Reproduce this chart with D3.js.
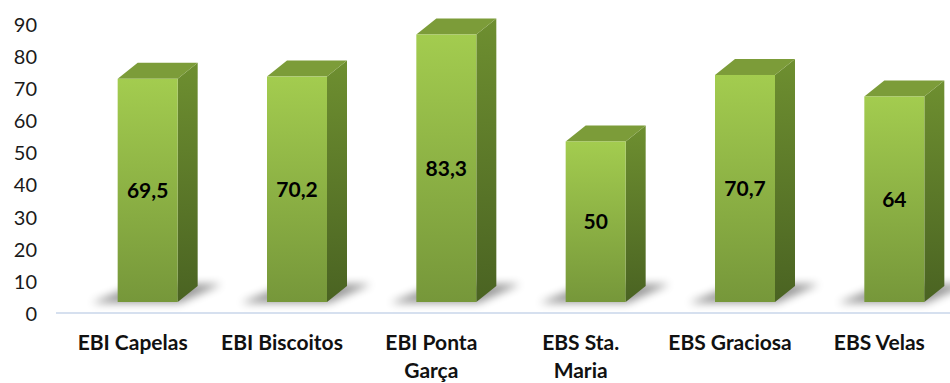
<!DOCTYPE html>
<head>
  <meta charset="utf-8">
  <title>Chart</title>
  <script src="https://d3js.org/d3.v7.min.js"></script>
<style>
body, html {
  margin: 0;
  padding: 0;
  background: #fff;
}
.ytick text {
  font-family: "Lato", "Open Sans", sans-serif;
  font-size: 20px;
  fill: #1a1a1a;
}
.cat {
  font-family: "Lato", "Open Sans", sans-serif;
  font-size: 21px;
  font-weight: bold;
  fill: #111;
}
.val {
  font-family: "Lato", "Open Sans", sans-serif;
  font-size: 21px;
  font-weight: bold;
  fill: #000;
}
</style>
</head>
<body>
<div id="chart"></div>
<script>

var categories = ["EBI Capelas", "EBI Biscoitos", "EBI Ponta\nGarça", "EBS Sta.\nMaria", "EBS Graciosa", "EBS Velas"];
var values = [69.5, 70.2, 83.3, 50, 70.7, 64];
var valueLabels = ["69,5", "70,2", "83,3", "50", "70,7", "64"];
var yTicks = [0, 10, 20, 30, 40, 50, 60, 70, 80, 90];

var width = 950, height = 383;

var svg = d3.select("#chart").append("svg")
    .attr("width", width)
    .attr("height", height);

var defs = svg.append("defs");

var front = defs.append("linearGradient").attr("id", "front")
    .attr("x1", 0).attr("y1", 0).attr("x2", 0).attr("y2", 1);
front.append("stop").attr("offset", "0%").attr("stop-color", "#a3cc4f");
front.append("stop").attr("offset", "100%").attr("stop-color", "#76973a");

var side = defs.append("linearGradient").attr("id", "side")
    .attr("x1", 0).attr("y1", 0).attr("x2", 0).attr("y2", 1);
side.append("stop").attr("offset", "0%").attr("stop-color", "#6e8f30");
side.append("stop").attr("offset", "100%").attr("stop-color", "#4a6322");

defs.append("filter").attr("id", "blur")
    .attr("x", "-50%").attr("y", "-100%").attr("width", "200%").attr("height", "300%")
  .append("feGaussianBlur").attr("stdDeviation", 4);

var x = d3.scaleBand().domain(categories).range([58, 954]);
var y = d3.scaleLinear().domain([0, 90]).range([314, 25]);

// 3d offsets
var dx = 20, dy = 16, lift = 12, fw = 60, shift = 15;

// y axis, labels only
var yAxis = svg.append("g")
    .attr("class", "ytick")
    .attr("transform", "translate(37,0)")
    .call(d3.axisLeft(y).tickValues(yTicks).tickSize(0).tickPadding(0));
yAxis.select(".domain").remove();

// floor line
svg.append("line")
    .attr("x1", 56).attr("x2", 950)
    .attr("y1", y(0) - 1).attr("y2", y(0) - 1)
    .attr("stroke", "#d6e0ef")
    .attr("stroke-width", 2);

var bars = svg.selectAll(".bar")
    .data(values)
  .enter().append("g")
    .attr("class", "bar");

function xl(d, i) { return x(categories[i]) + x.bandwidth() / 2 + shift - fw / 2; }
function barBase() { return y(0) - lift; }
function barTop(d) { return y(d) - lift; }

// shadow
bars.append("polygon")
    .attr("points", function(d, i) {
      var l = xl(d, i), b = barBase();
      return [[l - 26, b + 1], [l + fw + 2, b + 1], [l + fw + dx + 24, b - dy - 2], [l + dx, b - dy - 2]].join(" ");
    })
    .attr("fill", "#000")
    .attr("opacity", 0.4)
    .attr("filter", "url(#blur)");

// side face
bars.append("polygon")
    .attr("points", function(d, i) {
      var r = xl(d, i) + fw, b = barBase(), t = barTop(d);
      return [[r, t], [r + dx, t - dy], [r + dx, b - dy], [r, b]].join(" ");
    })
    .attr("fill", "url(#side)");

// top face
bars.append("polygon")
    .attr("points", function(d, i) {
      var l = xl(d, i), t = barTop(d);
      return [[l, t], [l + dx, t - dy], [l + fw + dx, t - dy], [l + fw, t]].join(" ");
    })
    .attr("fill", "#7c9c39");

// front face
bars.append("rect")
    .attr("x", function(d, i) { return xl(d, i); })
    .attr("y", function(d) { return barTop(d); })
    .attr("width", fw)
    .attr("height", function(d) { return barBase() - barTop(d); })
    .attr("fill", "url(#front)");

// value labels
bars.append("text")
    .attr("class", "val")
    .attr("x", function(d, i) { return xl(d, i) + fw / 2; })
    .attr("y", function(d) { return (barTop(d) + barBase()) / 2; })
    .attr("dy", "0.35em")
    .attr("text-anchor", "middle")
    .text(function(d, i) { return valueLabels[i]; });

// category labels
var cats = svg.selectAll(".cat")
    .data(categories)
  .enter().append("text")
    .attr("class", "cat")
    .attr("text-anchor", "middle")
    .attr("x", function(d) { return x(d) + x.bandwidth() / 2; })
    .attr("y", 350);

cats.selectAll("tspan")
    .data(function(d) { return d.split("\n"); })
  .enter().append("tspan")
    .attr("x", function() { var p = this.parentNode.__data__; return x(p) + x.bandwidth() / 2; })
    .attr("dy", function(d, i) { return i ? 28 : 0; })
    .text(function(d) { return d; });

</script>
</body>
